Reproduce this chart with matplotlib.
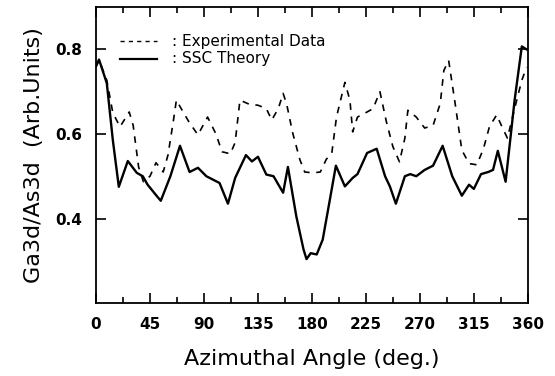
import numpy as np
import matplotlib
matplotlib.use("Agg")
import matplotlib.pyplot as plt
from matplotlib.ticker import MultipleLocator

# SSC Theory (solid)
theory_angle = [0, 2.5, 9, 14, 19, 26.5, 34, 39, 43, 51, 54, 62, 70, 78, 85, 92, 103, 110,
                116, 125, 130, 135, 142, 148, 156, 160, 167, 173, 175.5, 179, 184, 189, 195,
                200, 207.5, 214, 218, 226, 234, 241, 245, 250, 257.5, 262, 267, 274, 281,
                289, 297, 305, 311, 315, 321, 327, 331, 335, 341.5, 349, 355, 359]
theory_value = [0.76, 0.776, 0.72, 0.586, 0.475, 0.536, 0.508, 0.50, 0.48, 0.452, 0.442, 0.50,
                0.572, 0.51, 0.52, 0.50, 0.484, 0.435, 0.496, 0.55, 0.535, 0.546, 0.504, 0.50,
                0.461, 0.522, 0.405, 0.327, 0.304, 0.318, 0.315, 0.35, 0.445, 0.525, 0.476,
                0.496, 0.505, 0.555, 0.565, 0.50, 0.476, 0.435, 0.50, 0.505, 0.50, 0.515,
                0.525, 0.572, 0.50, 0.454, 0.48, 0.47, 0.505, 0.51, 0.515, 0.56, 0.487, 0.68,
                0.807, 0.80]

# Experimental Data (dashed)
exp_angle = [0, 2.5, 9, 14, 20, 27.7, 31, 35.5, 39.5, 45, 50, 56, 60, 64.6, 67, 71, 78, 85,
             93, 100, 105, 112, 116, 120, 128, 135, 142, 146.5, 152, 156, 159, 164, 170, 174,
             181, 187, 192, 196.6, 200.5, 207.5, 211.7, 214, 218, 226, 231, 236.7, 242, 247.5,
             253, 257.5, 260, 267, 274, 281, 287, 290, 294, 299, 305, 311, 317.5, 323, 328,
             334, 338, 343, 349, 355, 359]
exp_value = [0.76, 0.775, 0.727, 0.65, 0.617, 0.652, 0.62, 0.522, 0.487, 0.50, 0.532, 0.51,
             0.55, 0.633, 0.68, 0.66, 0.626, 0.598, 0.64, 0.60, 0.558, 0.553, 0.58, 0.68, 0.67,
             0.668, 0.66, 0.633, 0.66, 0.696, 0.67, 0.602, 0.539, 0.51, 0.508, 0.51, 0.54,
             0.555, 0.64, 0.722, 0.68, 0.605, 0.64, 0.652, 0.66, 0.70, 0.63, 0.57, 0.534, 0.59,
             0.656, 0.64, 0.614, 0.62, 0.672, 0.75, 0.774, 0.68, 0.562, 0.53, 0.527, 0.565,
             0.617, 0.645, 0.62, 0.59, 0.66, 0.727, 0.758]

x_ticks = [0, 45, 90, 135, 180, 225, 270, 315, 360]
y_ticks = [0.4, 0.6, 0.8]

fig = plt.figure(figsize=(5.55, 3.76), dpi=100)
ax = fig.add_axes([0.173, 0.194, 0.778, 0.787])

ax.plot(exp_angle, exp_value, color="black", lw=1.2, linestyle=(0, (4, 4)),
        dash_joinstyle="round")
ax.plot(theory_angle, theory_value, color="black", lw=1.7, solid_joinstyle="round")

ax.set_xlim(0, 360)
ax.set_ylim(0.2, 0.9)
ax.set_xticks(x_ticks)
ax.set_yticks(y_ticks)
ax.xaxis.set_minor_locator(MultipleLocator(22.5))
ax.tick_params(which="both", direction="in", top=True, right=True, labelsize=11, pad=10,
               width=1.2)
ax.tick_params(which="major", length=7)
ax.tick_params(which="minor", length=4)
for lab in ax.get_xticklabels() + ax.get_yticklabels():
    lab.set_fontweight("bold")
for s in ax.spines.values():
    s.set_linewidth(1.3)

ax.set_xlabel("Azimuthal Angle (deg.)", fontsize=16, labelpad=12)
ax.set_ylabel("Ga3d/As3d  (Arb.Units)", fontsize=16, labelpad=8)

# legend
tr = ax.transAxes
ax.plot([0.056, 0.141], [0.884, 0.884], transform=tr, color="black", lw=1.0,
        linestyle=(0, (3, 3)))
ax.plot([0.056, 0.141], [0.826, 0.826], transform=tr, color="black", lw=1.6)
ax.text(0.175, 0.884, ": Experimental Data", transform=tr, fontsize=11, va="center")
ax.text(0.175, 0.826, ": SSC Theory", transform=tr, fontsize=11, va="center")

fig.savefig("out.png", dpi=100)
